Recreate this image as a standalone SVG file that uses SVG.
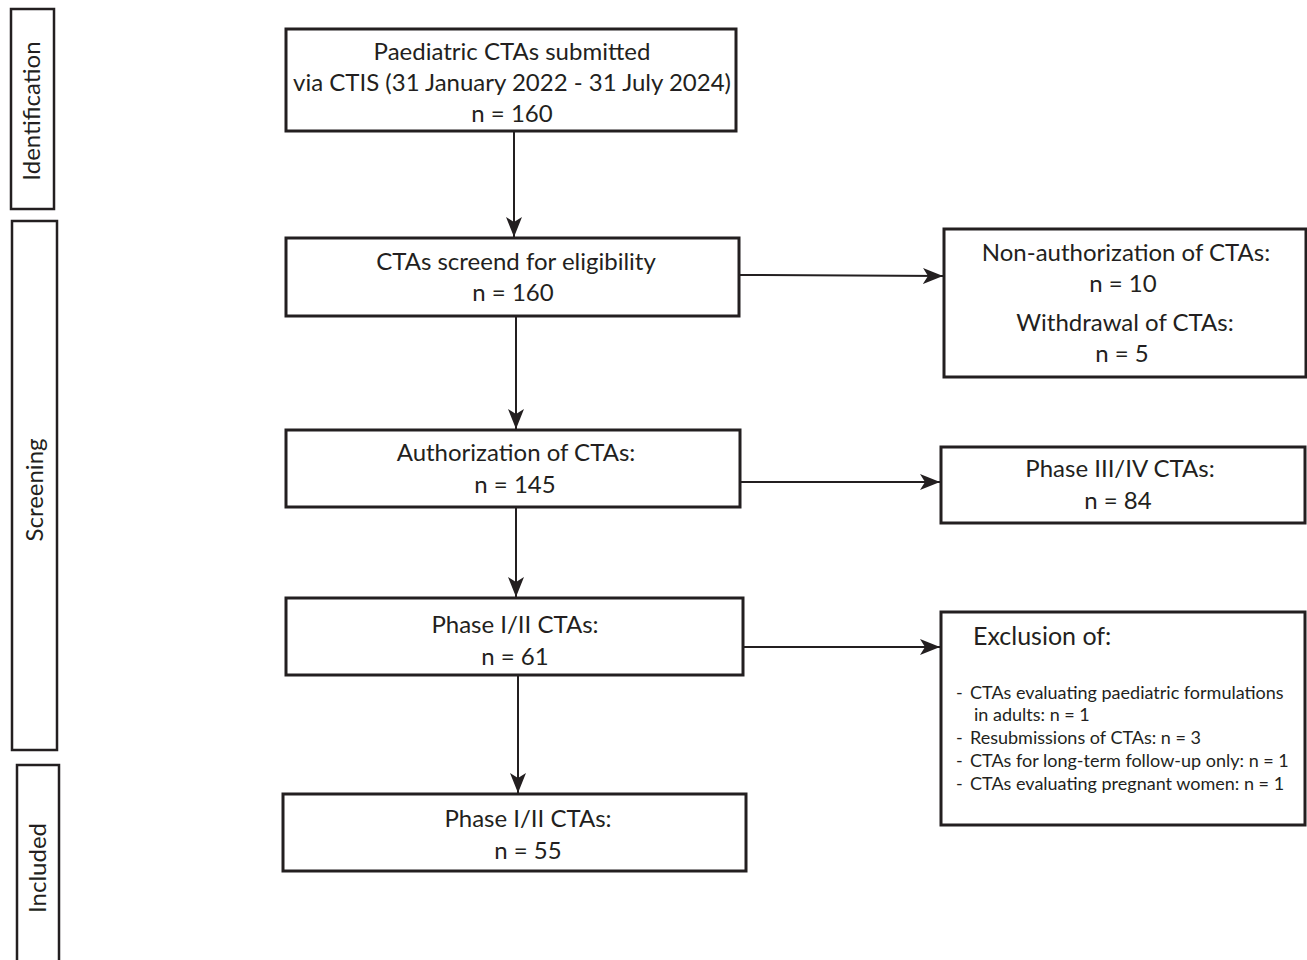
<svg xmlns="http://www.w3.org/2000/svg" width="1307" height="960" viewBox="0 0 1307 960">
<style>
  .box{fill:#fff;stroke:#231f20;stroke-width:3}
  .stage{fill:#fff;stroke:#231f20;stroke-width:2.5}
  .t{font-family:Lato,"Open Sans",sans-serif;font-size:24px;fill:#231f20;text-anchor:middle}
  .s{font-family:Lato,"Open Sans",sans-serif;font-size:18px;fill:#231f20}
  .h{font-family:Lato,"Open Sans",sans-serif;font-size:25px;fill:#231f20}
  .c line{stroke:#231f20;stroke-width:2}
</style>
<defs>
  <marker id="ah" viewBox="0 0 20 20" refX="20" refY="10" markerWidth="20" markerHeight="20" markerUnits="userSpaceOnUse" orient="auto">
    <path d="M0,2 L20,10 L0,18 L5,10 Z" fill="#231f20"/>
  </marker>
</defs>
<rect width="1307" height="960" fill="#fff"/>
<g id="stage-identification">
  <rect class="stage" x="11" y="9" width="43" height="200"/>
  <text class="t" transform="translate(40,111) rotate(-90)">Identification</text>
</g>
<g id="stage-screening">
  <rect class="stage" x="12" y="221" width="45" height="529"/>
  <text class="t" transform="translate(43,490) rotate(-90)">Screening</text>
</g>
<g id="stage-included">
  <rect class="stage" x="17" y="765" width="42" height="200"/>
  <text class="t" transform="translate(46,868) rotate(-90)">Included</text>
</g>
<g id="n1">
  <rect class="box" x="286" y="29" width="450" height="102"/>
  <text class="t" x="512" y="60">Paediatric CTAs submitted</text>
  <text class="t" x="512" y="91">via CTIS (31 January 2022 - 31 July 2024)</text>
  <text class="t" x="512" y="122">n = 160</text>
</g>
<g id="n2">
  <rect class="box" x="286" y="238" width="453" height="78"/>
  <text class="t" x="516" y="270">CTAs screend for eligibility</text>
  <text class="t" x="513" y="301">n = 160</text>
</g>
<g id="n3">
  <rect class="box" x="286" y="430" width="454" height="77"/>
  <text class="t" x="516" y="461">Authorization of CTAs:</text>
  <text class="t" x="515" y="493">n = 145</text>
</g>
<g id="n4">
  <rect class="box" x="286" y="598" width="457" height="77"/>
  <text class="t" x="515" y="633">Phase I/II CTAs:</text>
  <text class="t" x="515" y="665">n = 61</text>
</g>
<g id="n5">
  <rect class="box" x="283" y="794" width="463" height="77"/>
  <text class="t" x="528" y="827">Phase I/II CTAs:</text>
  <text class="t" x="528" y="859">n = 55</text>
</g>
<g id="r1">
  <rect class="box" x="944" y="229" width="362" height="148"/>
  <text class="t" x="1126" y="261">Non-authorization of CTAs:</text>
  <text class="t" x="1123" y="292">n = 10</text>
  <text class="t" x="1125" y="331">Withdrawal of CTAs:</text>
  <text class="t" x="1122" y="362">n = 5</text>
</g>
<g id="r2">
  <rect class="box" x="941" y="447" width="364" height="76"/>
  <text class="t" x="1120" y="477">Phase III/IV CTAs:</text>
  <text class="t" x="1118" y="509">n = 84</text>
</g>
<g id="r3">
  <rect class="box" x="941" y="612" width="364" height="213"/>
  <text class="h" x="973" y="645">Exclusion of:</text>
  <text class="s" x="956" y="699">-</text>
  <text class="s" x="970" y="699">CTAs evaluating paediatric formulations</text>
  <text class="s" x="974" y="721">in adults: n = 1</text>
  <text class="s" x="956" y="744">-</text>
  <text class="s" x="970" y="744">Resubmissions of CTAs: n = 3</text>
  <text class="s" x="956" y="767">-</text>
  <text class="s" x="970" y="767">CTAs for long-term follow-up only: n = 1</text>
  <text class="s" x="956" y="790">-</text>
  <text class="s" x="970" y="790">CTAs evaluating pregnant women: n = 1</text>
</g>
<g id="connectors" class="c">
  <line x1="514" y1="132" x2="514" y2="237" marker-end="url(#ah)"/>
  <line x1="516" y1="317" x2="516" y2="429" marker-end="url(#ah)"/>
  <line x1="516" y1="508" x2="516" y2="597" marker-end="url(#ah)"/>
  <line x1="518" y1="676" x2="518" y2="793" marker-end="url(#ah)"/>
  <line x1="740" y1="275" x2="943" y2="276" marker-end="url(#ah)"/>
  <line x1="741" y1="482" x2="940" y2="482" marker-end="url(#ah)"/>
  <line x1="744" y1="647" x2="940" y2="647" marker-end="url(#ah)"/>
</g>
</svg>
